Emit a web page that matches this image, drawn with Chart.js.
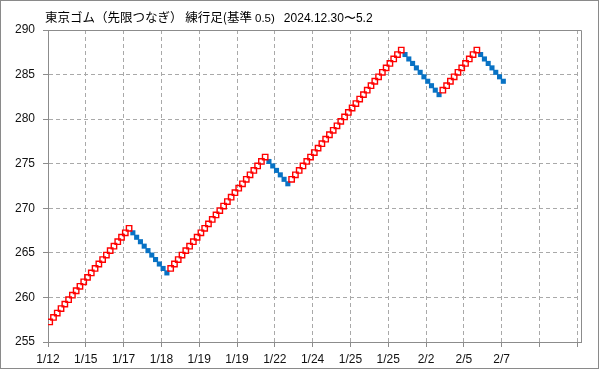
<!DOCTYPE html>
<html>
<head>
<meta charset="utf-8">
<script src="https://cdn.jsdelivr.net/npm/chart.js@4.4.1/dist/chart.umd.min.js"></script>
<style>
  html, body { margin: 0; padding: 0; background: #fff; }
  #frame { position: relative; width: 599px; height: 369px; box-sizing: border-box; border: 1px solid #8a8a8a; background: #fff; }
  #wrap { position: absolute; left: 0; top: 0; width: 597px; height: 367px; }
  #title { position: absolute; left: 44px; top: 8px; white-space: nowrap; color: #000; font-family: "Noto Sans CJK JP", sans-serif; font-size: 12.5px; line-height: 16px; }
  #title .sm { font-family: "Liberation Sans", "DejaVu Sans", sans-serif; font-size: 11.5px; margin-left: 3px; }
  #title .dt { font-family: "Liberation Sans", "DejaVu Sans", sans-serif; font-size: 12px; margin-left: 9px; }
</style>
</head>
<body>
<div id="frame">
  <div id="wrap"><canvas id="c" width="597" height="367"></canvas></div>
  <div id="title"><span id="t1"></span><span class="sm" id="t2"></span><span class="dt" id="t3"></span></div>
</div>
<script>
// ---- chart text ----
const titleMain = "東京ゴム（先限つなぎ） 練行足(基準";
const titleBase = "0.5)";
const titlePeriod = "2024.12.30〜5.2";

// ---- axis ticks ----
const yTicks = [255, 260, 265, 270, 275, 280, 285, 290];
const xTickLabels = ["1/12", "1/15", "1/17", "1/18", "1/19", "1/19", "1/22", "1/24", "1/25", "1/25", "2/2", "2/5", "2/7", "", ""];

// ---- renko bricks (box size 0.5): low of each brick, in order ----
const brickSize = 0.5;
const brickLows = [
  257, 257.5, 258, 258.5, 259, 259.5, 260, 260.5, 261, 261.5, 262, 262.5, 263, 263.5, 264, 264.5, 265, 265.5, 266, 266.5, 267, 267.5,
  267, 266.5, 266, 265.5, 265, 264.5, 264, 263.5, 263, 262.5,
  263, 263.5, 264, 264.5, 265, 265.5, 266, 266.5, 267, 267.5, 268, 268.5, 269, 269.5, 270, 270.5, 271, 271.5, 272, 272.5, 273, 273.5, 274, 274.5, 275, 275.5,
  275, 274.5, 274, 273.5, 273, 272.5,
  273, 273.5, 274, 274.5, 275, 275.5, 276, 276.5, 277, 277.5, 278, 278.5, 279, 279.5, 280, 280.5, 281, 281.5, 282, 282.5, 283, 283.5, 284, 284.5, 285, 285.5, 286, 286.5, 287, 287.5,
  287, 286.5, 286, 285.5, 285, 284.5, 284, 283.5, 283, 282.5,
  283, 283.5, 284, 284.5, 285, 285.5, 286, 286.5, 287, 287.5,
  287, 286.5, 286, 285.5, 285, 284.5, 284
];
// direction of each brick: "u" = up (red hollow), "d" = down (blue filled)
const brickDirs =
  "uuuuuuuuuuuuuuuuuuuuuu" +
  "dddddddddd" +
  "uuuuuuuuuuuuuuuuuuuuuuuuuu" +
  "dddddd" +
  "uuuuuuuuuuuuuuuuuuuuuuuuuuuuuu" +
  "dddddddddd" +
  "uuuuuuuuuu" +
  "ddddddd";

document.getElementById('t1').textContent = titleMain;
document.getElementById('t2').textContent = titleBase;
document.getElementById('t3').textContent = titlePeriod;

const upData = [], downData = [];
brickLows.forEach((lo, i) => {
  const pt = { x: i + 0.45, y: lo + brickSize / 2 };
  if (brickDirs[i] === 'u') upData.push(pt); else downData.push(pt);
});

const frameColor = '#8c8c8c';
const gridColor = '#a9a9a9';

const plotBorder = {
  id: 'plotBorder',
  beforeDatasetsDraw(chart) {
    const a = chart.chartArea, ctx = chart.ctx;
    ctx.save();
    ctx.strokeStyle = frameColor;
    ctx.lineWidth = 1;
    ctx.beginPath();
    ctx.moveTo(Math.round(a.left) + 0.5, Math.round(a.top) + 0.5);
    ctx.lineTo(Math.round(a.right) + 0.5, Math.round(a.top) + 0.5);
    ctx.lineTo(Math.round(a.right) + 0.5, Math.round(a.bottom) + 0.5);
    ctx.stroke();
    ctx.restore();
  }
};

new Chart(document.getElementById('c'), {
  type: 'scatter',
  data: {
    datasets: [
      { label: 'up', data: upData, pointStyle: 'rect', pointRadius: 3.8, pointBackgroundColor: 'rgba(0,0,0,0)', pointBorderColor: '#ff0000', pointBorderWidth: 1.4, showLine: false },
      { label: 'down', data: downData, pointStyle: 'rect', pointRadius: 3.6, pointBackgroundColor: '#0872c4', pointBorderColor: '#0872c4', pointBorderWidth: 0, showLine: false }
    ]
  },
  options: {
    responsive: false,
    animation: false,
    devicePixelRatio: 1,
    layout: { padding: { top: 29, right: 17, left: 0, bottom: 0 } },
    plugins: { legend: { display: false }, tooltip: { enabled: false }, title: { display: false } },
    scales: {
      x: {
        type: 'linear', min: 0, max: 141, offset: false,
        afterFit(s) { s.height = 26; },
        afterBuildTicks(s) { s.ticks = xTickLabels.map((_, i) => ({ value: i * 10 })); },
        grid: { color: gridColor, lineWidth: 1, offset: false, drawTicks: true, tickLength: 5, tickColor: frameColor, tickBorderDash: [] },
        border: { display: true, color: frameColor, width: 1, dash: [4, 3] },
        ticks: {
          autoSkip: false, maxRotation: 0, padding: 5, color: '#111',
          font: { family: 'Liberation Sans', size: 12 },
          callback(v) { const k = Math.round(v / 10); return xTickLabels[k] !== undefined ? xTickLabels[k] : ''; }
        }
      },
      y: {
        type: 'linear', min: yTicks[0], max: yTicks[yTicks.length - 1],
        afterFit(s) { s.width = 47; },
        afterBuildTicks(s) { s.ticks = yTicks.map(v => ({ value: v })); },
        grid: { color: gridColor, lineWidth: 1, drawTicks: true, tickLength: 5, tickColor: frameColor, tickBorderDash: [] },
        border: { display: true, color: frameColor, width: 1, dash: [4, 3] },
        ticks: { padding: 8, color: '#111', font: { family: 'Liberation Sans', size: 12 } }
      }
    }
  },
  plugins: [plotBorder]
});
</script>
</body>
</html>
